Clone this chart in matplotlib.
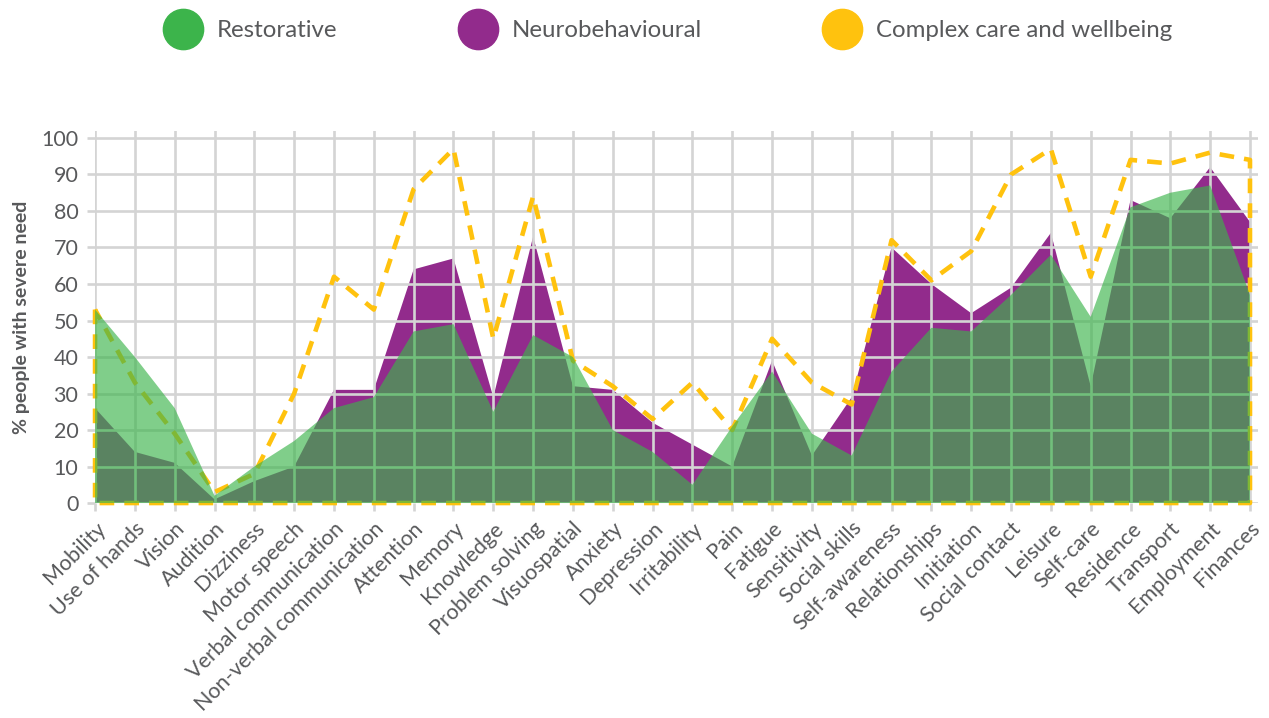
import numpy as np
import matplotlib.pyplot as plt
from matplotlib.lines import Line2D

# categories along the x axis
categories = ['Mobility', 'Use of hands', 'Vision', 'Audition', 'Dizziness', 'Motor speech',
              'Verbal communication', 'Non-verbal communication', 'Attention', 'Memory',
              'Knowledge', 'Problem solving', 'Visuospatial', 'Anxiety', 'Depression',
              'Irritability', 'Pain', 'Fatigue', 'Sensitivity', 'Social skills',
              'Self-awareness', 'Relationships', 'Initiation', 'Social contact', 'Leisure',
              'Self-care', 'Residence', 'Transport', 'Employment', 'Finances']

# % people with severe need, per group
restorative = [53, 40, 26, 2, 10, 17, 26, 29, 47, 49, 25, 46, 40, 20, 14,
               5, 21, 36, 19, 13, 36, 48, 47, 57, 68, 51, 81, 85, 87, 57]
neurobehavioural = [26, 14, 11, 1, 6, 10, 31, 31, 64, 67, 29, 73, 32, 31, 22,
                    16, 10, 39, 13, 29, 70, 60, 52, 59, 74, 32, 83, 78, 92, 77]
complex_care = [53, 33, 19, 3, 8, 30, 62, 53, 86, 97, 45, 84, 39, 32, 23,
                33, 20, 45, 33, 27, 72, 61, 69, 90, 97, 62, 94, 93, 96, 94]

yticks = list(range(0, 101, 10))

# colours
GREEN = '#3cb44b'
PURPLE = '#922b8c'
YELLOW = '#ffc20e'
GRID = '#d4d4d4'
TEXT = '#58595b'

plt.rcParams['font.family'] = ['Lato', 'DejaVu Sans']

fig = plt.figure(figsize=(12.69, 7.18), dpi=100)
ax = fig.add_axes([0.0749, 0.2994, 0.9164, 0.5186])

x = np.arange(len(categories))

ax.fill_between(x, 0, neurobehavioural, facecolor=PURPLE, edgecolor='none', zorder=1)
ax.fill_between(x, 0, complex_care, facecolor='none', edgecolor=YELLOW,
                linewidth=3.3, linestyle=(0, (3.2, 2.2)), zorder=2, clip_on=False)
ax.fill_between(x, 0, restorative, facecolor=GREEN, edgecolor='none', alpha=0.65,
                zorder=3, clip_on=False)

ax.set_xlim(0, len(categories) - 1 + 0.2)
ax.set_ylim(0, 102)
ax.set_xticks(x)
ax.set_xticklabels(categories, rotation=45, ha='right', rotation_mode='anchor')
ax.set_yticks(yticks)

ax.set_axisbelow('line')
ax.grid(True, color=GRID, linewidth=1.9)
for s in ax.spines.values():
    s.set_visible(False)
ax.tick_params(axis='both', colors=GRID, length=6, width=1.9, labelcolor=TEXT, labelsize=15.5)
ax.tick_params(axis='x', pad=5)
ax.tick_params(axis='y', pad=6)

ax.set_ylabel('% people with severe need', fontsize=14, fontweight='bold', color=TEXT)
ax.yaxis.set_label_coords(-0.056, 0.5)

handles = [Line2D([], [], linestyle='none', marker='o', markersize=29, color=c)
           for c in (GREEN, PURPLE, YELLOW)]
fig.legend(handles, ['Restorative', 'Neurobehavioural', 'Complex care and wellbeing'],
           loc='center', bbox_to_anchor=(0.526, 0.957), ncol=3, frameon=False,
           fontsize=17.3, labelcolor=TEXT, handlelength=1.7, handletextpad=0.55,
           columnspacing=5.0)

fig.savefig('out.png', dpi=100)
